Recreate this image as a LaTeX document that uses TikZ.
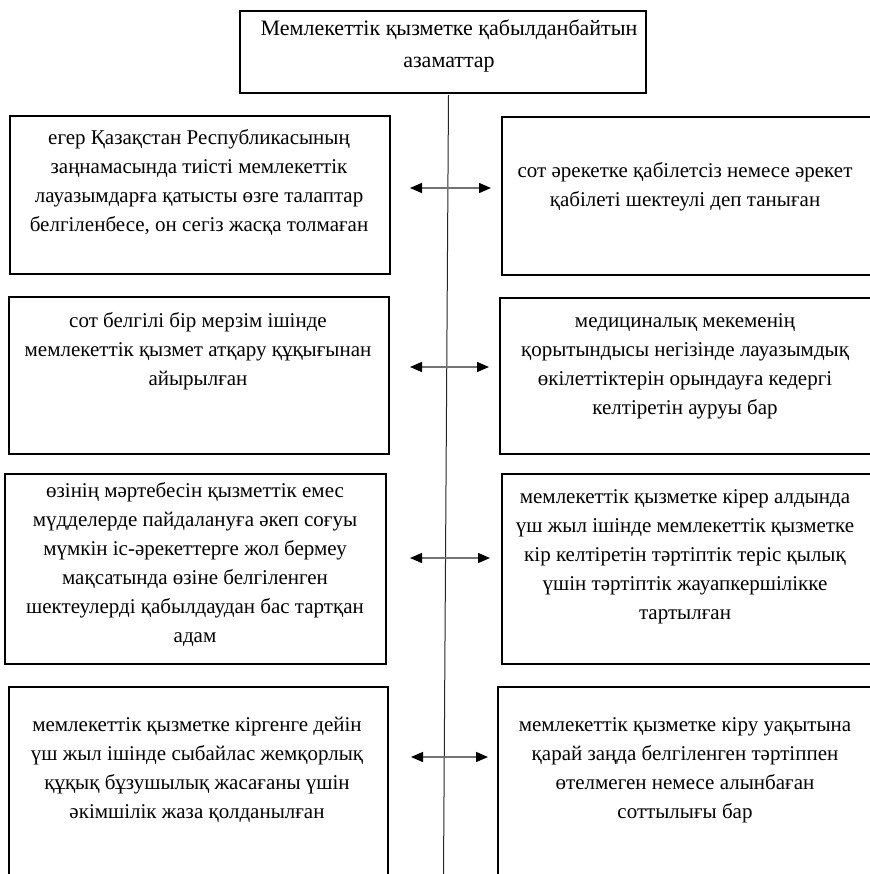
\documentclass[tikz,border=0pt]{standalone}
\usepackage{fontspec}
\setmainfont{Liberation Serif}
\usetikzlibrary{arrows.meta,calc}
\begin{document}
\begin{tikzpicture}[x=1bp,y=-1bp,
  box/.style={draw=black,line width=1.7bp,rectangle,anchor=north west,inner sep=0pt},
  txt/.style={align=center,font=\fontsize{21bp}{29bp}\selectfont,inner sep=0pt},
  toptxt/.style={align=center,font=\fontsize{22bp}{32bp}\selectfont,inner sep=0pt},
  vline/.style={draw=black!85,line width=1bp},
  biarrow/.style={draw=black!55,line width=1.4bp,
    {Triangle[color=black,length=12bp,width=10bp]}-{Triangle[color=black,length=12bp,width=10bp]}}]
\useasboundingbox (0,0) rectangle (870,874);
\clip (0,0) rectangle (870,874);
% top box
\node[box,minimum width=406bp,minimum height=82bp] (top) at (239,10) {};
\node[toptxt] (toptxt) at (449,46) {Мемлекеттік қызметке қабылданбайтын\\азаматтар};
% vertical line
\coordinate (vA) at (448.5,95);
\coordinate (vB) at (443.5,874);
\draw[vline] (vA) -- (vB);
% left boxes
\node[box,minimum width=380bp,minimum height=158bp] (L1) at (9,115) {};
\node[box,minimum width=380bp,minimum height=157bp] (L2) at (8,296) {};
\node[box,minimum width=381bp,minimum height=190bp] (L3) at (4,473) {};
\node[box,minimum width=379bp,minimum height=200bp] (L4) at (8,686) {};
% right boxes
\node[box,minimum width=380bp,minimum height=158bp] (R1) at (501,116) {};
\node[box,minimum width=380bp,minimum height=156bp] (R2) at (499,297) {};
\node[box,minimum width=380bp,minimum height=190bp] (R3) at (501,473) {};
\node[box,minimum width=380bp,minimum height=200bp] (R4) at (497,686) {};
% texts
\node[txt] (L1t) at (199,183) {егер Қазақстан Республикасының\\заңнамасында тиісті мемлекеттік\\лауазымдарға қатысты өзге талаптар\\белгіленбесе, он сегіз жасқа толмаған};
\node[txt] (R1t) at (685,187) {сот әрекетке қабілетсіз немесе әрекет\\қабілеті шектеулі деп таныған};
\node[txt] (L2t) at (198,351) {сот белгілі бір мерзім ішінде\\мемлекеттік қызмет атқару құқығынан\\айырылған};
\node[txt] (R2t) at (685,366) {медициналық мекеменің\\қорытындысы негізінде лауазымдық\\өкілеттіктерін орындауға кедергі\\келтіретін ауруы бар};
\node[txt] (L3t) at (195,565) {өзінің мәртебесін қызметтік емес\\мүдделерде пайдалануға әкеп соғуы\\мүмкін іс-әрекеттерге жол бермеу\\мақсатында өзіне белгіленген\\шектеулерді қабылдаудан бас тартқан\\адам};
\node[txt] (R3t) at (685,557) {мемлекеттік қызметке кірер алдында\\үш жыл ішінде мемлекеттік қызметке\\кір келтіретін тәртіптік теріс қылық\\үшін тәртіптік жауапкершілікке\\тартылған};
\node[txt] (L4t) at (197,770) {мемлекеттік қызметке кіргенге дейін\\үш жыл ішінде сыбайлас жемқорлық\\құқық бұзушылық жасағаны үшін\\әкімшілік жаза қолданылған};
\node[txt] (R4t) at (685,770) {мемлекеттік қызметке кіру уақытына\\қарай заңда белгіленген тәртіппен\\өтелмеген немесе алынбаған\\соттылығы бар};
% arrows
\coordinate (a1l) at (410,188); \coordinate (a1r) at (491,188);
\coordinate (a2l) at (410,367); \coordinate (a2r) at (489,367);
\coordinate (a3l) at (410,558); \coordinate (a3r) at (490,558);
\coordinate (a4l) at (411,757); \coordinate (a4r) at (488,757);
\draw[biarrow] (a1l) -- (a1r);
\draw[biarrow] (a2l) -- (a2r);
\draw[biarrow] (a3l) -- (a3r);
\draw[biarrow] (a4l) -- (a4r);
\end{tikzpicture}
\end{document}
